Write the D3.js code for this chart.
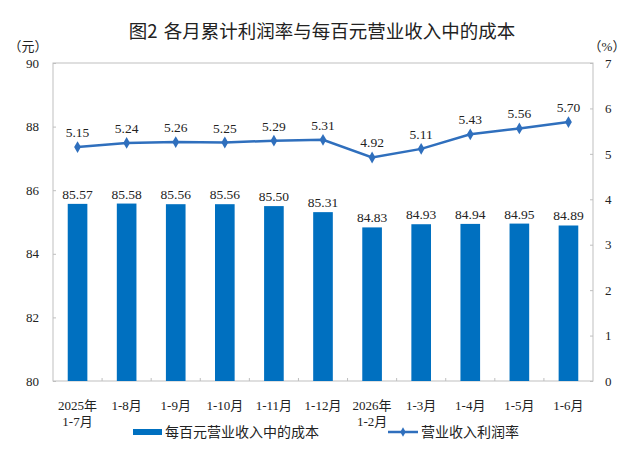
<!DOCTYPE html>
<html>
<head>
<meta charset="utf-8">
<script src="https://cdn.jsdelivr.net/npm/d3@7"></script>
<style>
  body { margin: 0; background: #fff; }
  text { font-family: "Liberation Serif", "Noto Sans CJK SC", serif; fill: #222; }
  .cjk { font-family: "Noto Sans CJK SC", sans-serif; }
</style>
</head>
<body>
<div id="chart"></div>
<script>
// data
var months = ["2025年\n1-7月", "1-8月", "1-9月", "1-10月", "1-11月", "1-12月", "2026年\n1-2月", "1-3月", "1-4月", "1-5月", "1-6月"];
var costPer100 = [85.57, 85.58, 85.56, 85.56, 85.50, 85.31, 84.83, 84.93, 84.94, 84.95, 84.89];
var profitRate = [5.15, 5.24, 5.26, 5.25, 5.29, 5.31, 4.92, 5.11, 5.43, 5.56, 5.70];
var leftTicks = [80, 82, 84, 86, 88, 90];
var rightTicks = [0, 1, 2, 3, 4, 5, 6, 7];

var W = 640, H = 458;
var plot = {left: 53, right: 593, top: 63, bottom: 381};
var barColor = "#0070c0", lineColor = "#2f6fbd";

var svg = d3.select("#chart").append("svg")
  .attr("width", W).attr("height", H);

// title (two parts, with a gap after the figure number)
var title = svg.append("text").attr("class", "cjk")
  .attr("x", 322).attr("y", 38)
  .attr("text-anchor", "middle")
  .style("font-size", "18.5px");
title.append("tspan").text("图2");
title.append("tspan").attr("dx", 6).text("各月累计利润率与每百元营业收入中的成本");

// scales
var x = d3.scaleBand().domain(months).range([plot.left, plot.right]).paddingInner(0.6).paddingOuter(0.3);
var xStep = d3.scaleBand().domain(months).range([plot.left, plot.right]);
var yL = d3.scaleLinear().domain([80, 90]).range([plot.bottom, plot.top]);
var yR = d3.scaleLinear().domain([0, 7]).range([plot.bottom, plot.top]);

// plot frame
svg.append("rect")
  .attr("x", plot.left).attr("y", plot.top)
  .attr("width", plot.right - plot.left).attr("height", plot.bottom - plot.top)
  .attr("fill", "none").attr("stroke", "#bfbfbf").attr("stroke-width", 1);

// left axis
var gl = svg.append("g").attr("transform", "translate(" + plot.left + ",0)")
  .call(d3.axisLeft(yL).tickValues(leftTicks).tickSize(-3).tickPadding(14).tickFormat(d3.format("d")));
gl.select(".domain").remove();
gl.selectAll("line").attr("stroke", "#bfbfbf");
gl.selectAll("text").style("font-size", "13px").attr("text-anchor", "middle").attr("dx", "-0.5em");

// right axis
var gr = svg.append("g").attr("transform", "translate(" + plot.right + ",0)")
  .call(d3.axisRight(yR).tickValues(rightTicks).tickSize(-3).tickPadding(12).tickFormat(d3.format("d")));
gr.select(".domain").remove();
gr.selectAll("line").attr("stroke", "#bfbfbf");
gr.selectAll("text").style("font-size", "13px");

// unit labels
svg.append("text").attr("class", "cjk").attr("x", 28).attr("y", 51)
  .attr("text-anchor", "middle").style("font-size", "13px").text("（元）");
svg.append("text").attr("x", 607).attr("y", 51)
  .attr("text-anchor", "middle").style("font-size", "13px").text("（%）");

// x ticks between categories
svg.append("g").selectAll("line")
  .data(months.slice(1))
  .join("line")
  .attr("x1", function(d) { return xStep(d); })
  .attr("x2", function(d) { return xStep(d); })
  .attr("y1", plot.bottom).attr("y2", plot.bottom - 3)
  .attr("stroke", "#bfbfbf");

// x labels
var xl = svg.append("g").selectAll("text")
  .data(months)
  .join("text")
  .attr("x", function(d) { return x(d) + x.bandwidth() / 2; })
  .attr("y", 410)
  .attr("text-anchor", "middle")
  .style("font-size", "13px");
xl.selectAll("tspan")
  .data(function(d) { return d.split("\n"); })
  .join("tspan")
  .attr("x", function() { return d3.select(this.parentNode).attr("x"); })
  .attr("dy", function(d, i) { return i ? 16 : 0; })
  .text(function(d) { return d; });

// bars
svg.append("g").selectAll("rect")
  .data(costPer100)
  .join("rect")
  .attr("x", function(d, i) { return x(months[i]); })
  .attr("y", function(d) { return yL(d); })
  .attr("width", x.bandwidth())
  .attr("height", function(d) { return plot.bottom - yL(d); })
  .attr("fill", barColor);

svg.append("g").selectAll("text")
  .data(costPer100)
  .join("text")
  .attr("x", function(d, i) { return x(months[i]) + x.bandwidth() / 2; })
  .attr("y", function(d) { return yL(d) - 5; })
  .attr("text-anchor", "middle")
  .style("font-size", "13.5px")
  .text(function(d) { return d3.format(".2f")(d); });

// line
var line = d3.line()
  .x(function(d, i) { return x(months[i]) + x.bandwidth() / 2; })
  .y(function(d) { return yR(d); });

svg.append("path")
  .datum(profitRate)
  .attr("d", line)
  .attr("fill", "none").attr("stroke", lineColor).attr("stroke-width", 2.5);

var diamond = d3.symbol().type(d3.symbolDiamond).size(40);
svg.append("g").selectAll("path")
  .data(profitRate)
  .join("path")
  .attr("d", diamond)
  .attr("transform", function(d, i) { return "translate(" + (x(months[i]) + x.bandwidth() / 2) + "," + yR(d) + ")"; })
  .attr("fill", lineColor);

svg.append("g").selectAll("text")
  .data(profitRate)
  .join("text")
  .attr("x", function(d, i) { return x(months[i]) + x.bandwidth() / 2; })
  .attr("y", function(d) { return yR(d) - 10; })
  .attr("text-anchor", "middle")
  .style("font-size", "13.5px")
  .text(function(d) { return d3.format(".2f")(d); });

// legend
var lg = svg.append("g");
lg.append("rect").attr("x", 133).attr("y", 429).attr("width", 29).attr("height", 6).attr("fill", barColor);
lg.append("text").attr("class", "cjk").attr("x", 165).attr("y", 437).style("font-size", "14px").text("每百元营业收入中的成本");
lg.append("line").attr("x1", 388).attr("x2", 418).attr("y1", 432).attr("y2", 432)
  .attr("stroke", lineColor).attr("stroke-width", 2.5);
lg.append("path").attr("d", d3.symbol().type(d3.symbolDiamond).size(25)).attr("transform", "translate(403,432)").attr("fill", lineColor);
lg.append("text").attr("class", "cjk").attr("x", 421).attr("y", 437).style("font-size", "14px").text("营业收入利润率");
</script>
</body>
</html>
